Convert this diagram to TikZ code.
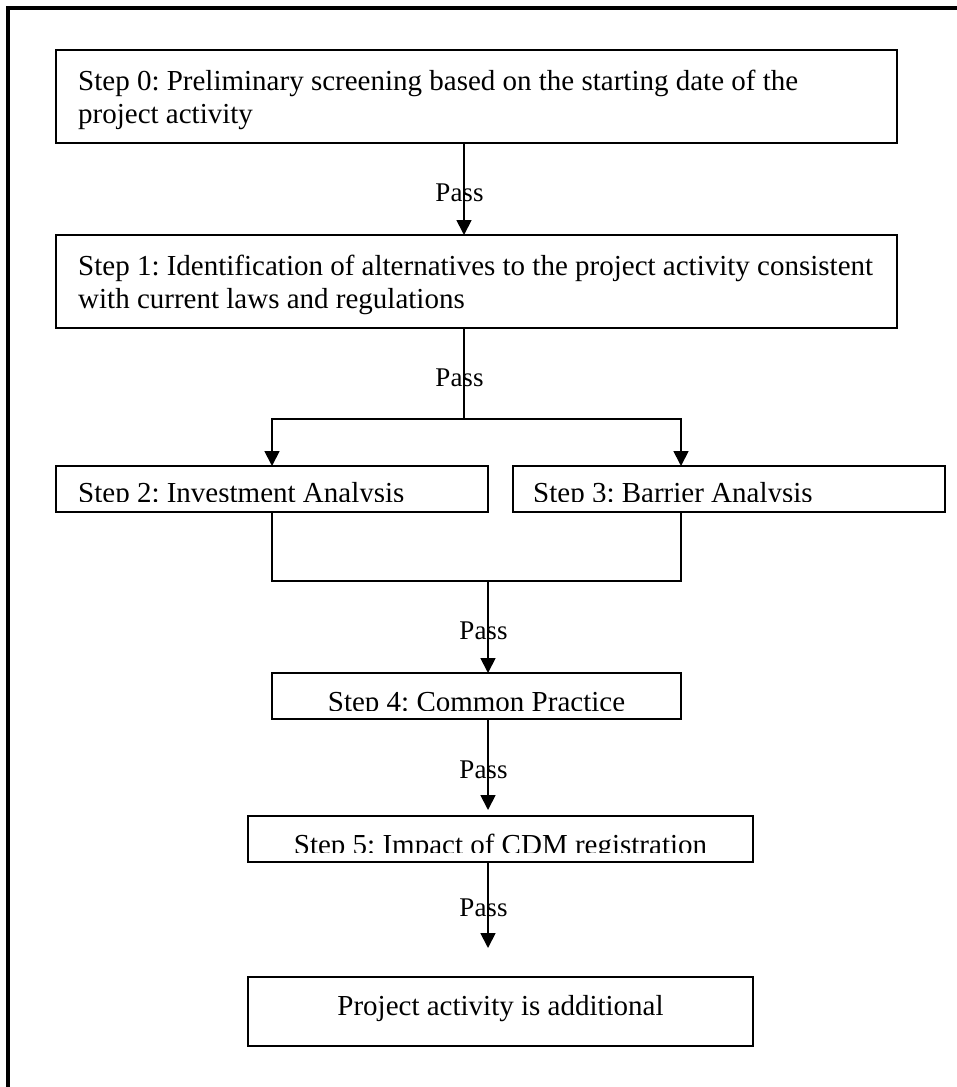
\documentclass[tikz,border=0pt]{standalone}
\usepackage{fontspec}
\setmainfont{Liberation Serif}
\usetikzlibrary{positioning,arrows.meta}

\begin{document}
\frenchspacing
\begin{tikzpicture}[
  x=1pt, y=-1pt,
  font=\fontsize{29}{33}\selectfont,
  stepbox/.style = {draw, line width=1.8pt, inner sep=0pt, outer sep=0pt,
                    anchor=north west},
  steptxt/.style = {inner sep=0pt, anchor=base west, align=left},
  pass/.style    = {font=\fontsize{27}{30}\selectfont, inner sep=0pt,
                    anchor=base},
  lnk/.style     = {line width=1.8pt},
  arr/.style     = {lnk, -{Triangle[length=15pt, width=15pt]}}
]
\clip (0,0) rectangle (957,1087);

% ---------- page frame -----------------------------------------------------
\draw[line width=3.5pt] (8,1100) -- (8,8) -- (970,8);

% ---------- steps 0 and 1 --------------------------------------------------
\node[stepbox, minimum width=841, minimum height=93] (s0) at (56,50) {};
\node[steptxt, anchor=north west] (t0) at ([xshift=22pt, yshift=-20pt]s0.north west)
  {Step 0: Preliminary screening based on the starting date of the\\
   project activity};

\node[stepbox, minimum width=841, minimum height=93] (s1) at (56,235) {};
\node[steptxt, anchor=north west] (t1) at ([xshift=22pt, yshift=-20pt]s1.north west)
  {Step 1: Identification of alternatives to the project activity consistent\\
   with current laws and regulations};

% ---------- steps 2 and 3 (text cut off by the box) ------------------------
\node[stepbox, minimum width=432, minimum height=46] (s2) at (56,466) {};
\node[stepbox, minimum width=432, minimum height=46] (s3) at (513,466) {};
\begin{scope}
  \clip (s2.north west) rectangle ([yshift=11pt]s3.south east);
  \node[steptxt] (t2) at ([xshift=22pt, yshift=10pt]s2.south west)
    {Step 2: Investment Analysis};
  \node[steptxt] (t3) at ([xshift=20pt, yshift=10pt]s3.south west)
    {Step 3: Barrier Analysis};
\end{scope}

% ---------- steps 4 and 5 --------------------------------------------------
\node[stepbox, minimum width=409, minimum height=46] (s4) at (272,673) {};
\begin{scope}
  \clip (s4.north west) rectangle ([yshift=9pt]s4.south east);
  \node[steptxt, anchor=base] (t4) at ([yshift=8pt]s4.south)
    {Step 4: Common Practice};
\end{scope}

\node[stepbox, minimum width=505, minimum height=46] (s5) at (248,816) {};
\begin{scope}
  \clip (s5.north west) rectangle ([yshift=10pt]s5.south east);
  \node[steptxt, anchor=base] (t5) at ([yshift=8pt]s5.south)
    {Step 5: Impact of CDM registration};
\end{scope}

% ---------- result ---------------------------------------------------------
\node[stepbox, minimum width=505, minimum height=69] (res) at (248,977) {};
\node[steptxt, anchor=base] (tr) at ([yshift=31pt]res.south)
  {Project activity is additional};

% ---------- connectors -----------------------------------------------------
\coordinate (split) at (464,419);
\coordinate (merge) at (488,581);

\draw[arr] (s0.south -| split) -- (s1.north -| split);
\draw[lnk] (s1.south -| split) -- (split);
\draw[arr] (split) -| (s2.north);
\draw[arr] (split) -| (s3.north -| s4.east);
\draw[lnk] (s2.south) |- (merge) -| (s3.south -| s4.east);
\draw[arr] (merge) -- (s4.north -| merge);
\draw[arr, shorten >=6pt] (s4.south -| merge) -- (s5.north -| merge);
\draw[arr, shorten >=29pt] (s5.south -| merge) -- (res.north -| merge);

% ---------- pass labels ----------------------------------------------------
\node[pass] (p0) at (459.5,201) {Pass};
\node[pass] (p1) at (459.5,386) {Pass};
\node[pass] (p2) at (483.5,639) {Pass};
\node[pass] (p3) at (483.5,778) {Pass};
\node[pass] (p4) at (483.5,916) {Pass};

\end{tikzpicture}
\end{document}
